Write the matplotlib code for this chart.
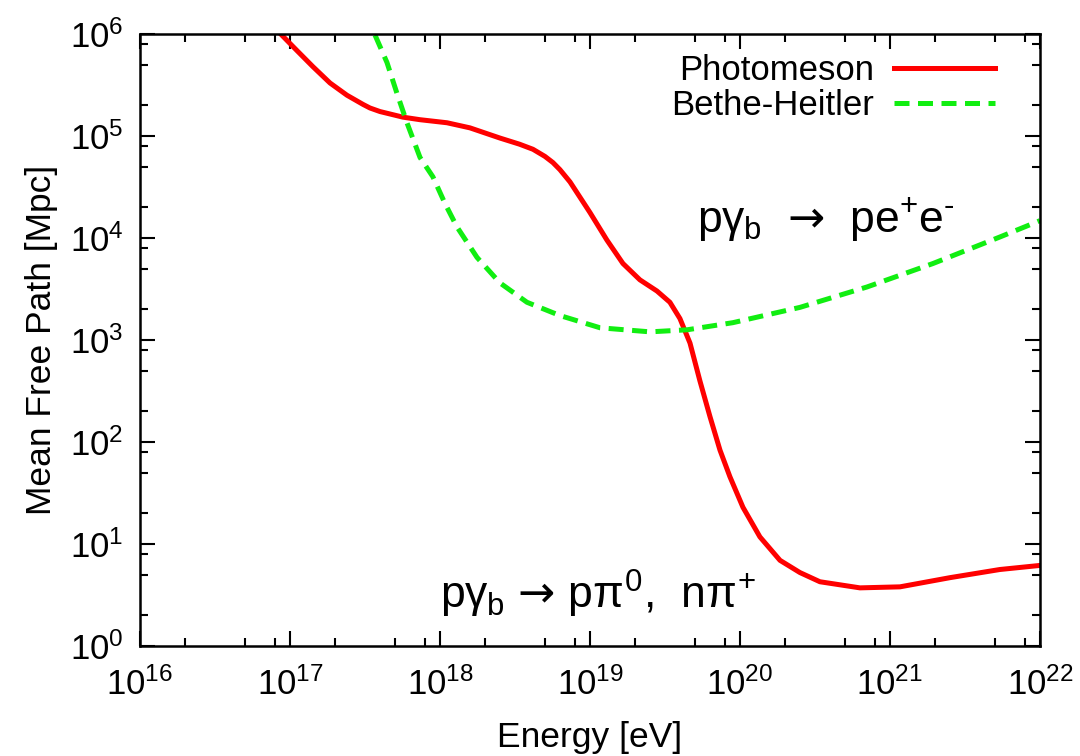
import numpy as np
import matplotlib
matplotlib.use("Agg")
import matplotlib.pyplot as plt
from matplotlib.ticker import FixedLocator, NullFormatter

plt.rcParams['font.family'] = ['Liberation Sans', 'DejaVu Sans']
plt.rcParams['mathtext.fontset'] = 'custom'
plt.rcParams['mathtext.rm'] = 'Liberation Sans'
plt.rcParams['mathtext.it'] = 'Liberation Sans'
plt.rcParams['mathtext.bf'] = 'Liberation Sans:bold'
plt.rcParams['mathtext.sf'] = 'DejaVu Sans'

# log10 of proton energy [eV] and mean free path [Mpc]
pm_logE = [16.945, 17.045, 17.153, 17.267, 17.38, 17.487, 17.533, 17.60, 17.753, 17.867,
           18.047, 18.20, 18.40, 18.53, 18.62, 18.70, 18.753, 18.80, 18.867, 19.00,
           19.113, 19.22, 19.333, 19.447, 19.533, 19.60, 19.667, 19.733, 19.80, 19.867,
           19.933, 20.02, 20.133, 20.267, 20.40, 20.533, 20.80, 21.067, 21.40, 21.733,
           22.00]
pm_logL = [5.99, 5.84, 5.68, 5.52, 5.40, 5.31, 5.275, 5.24, 5.185, 5.16,
           5.13, 5.08, 4.98, 4.92, 4.87, 4.80, 4.74, 4.67, 4.55, 4.25,
           3.98, 3.75, 3.59, 3.48, 3.37, 3.21, 2.97, 2.60, 2.25, 1.92,
           1.66, 1.36, 1.07, 0.84, 0.72, 0.63, 0.57, 0.58, 0.67, 0.75,
           0.79]

bh_logE = [17.567, 17.647, 17.713, 17.78, 17.867, 17.953, 18.033, 18.113, 18.247, 18.40,
           18.58, 18.80, 19.067, 19.40, 19.647, 19.953, 20.40, 20.847, 21.287, 21.733,
           22.00]
bh_logL = [5.99, 5.72, 5.42, 5.13, 4.79, 4.60, 4.34, 4.11, 3.81, 3.56,
           3.37, 3.24, 3.12, 3.08, 3.10, 3.17, 3.32, 3.52, 3.75, 4.01,
           4.17]

E_pm = 10.0 ** np.array(pm_logE)
L_pm = 10.0 ** np.array(pm_logL)
E_bh = 10.0 ** np.array(bh_logE)
L_bh = 10.0 ** np.array(bh_logL)

fig = plt.figure(figsize=(10.8, 7.56), dpi=100)
ax = fig.add_axes([0.1296, 0.1455, 0.8333, 0.8095])

ax.plot(E_pm, L_pm, color='#ff0000', lw=3.6, label='Photomeson',
        solid_joinstyle='round')
bh, = ax.plot(E_bh, L_bh, color='#11ee11', lw=3.6, label='Bethe-Heitler')
bh.set_dashes((3.0, 1.7))

ax.set_xscale('log')
ax.set_yscale('log')
ax.set_xlim(1e16, 1e22)
ax.set_ylim(1e0, 1e6)

# major ticks every decade, minor at 2, 5, 8
xdec = np.arange(16, 23)
ydec = np.arange(0, 7)
ax.xaxis.set_major_locator(FixedLocator(10.0 ** xdec))
ax.yaxis.set_major_locator(FixedLocator(10.0 ** ydec))
ax.xaxis.set_minor_locator(FixedLocator([m * 10.0 ** d for d in xdec[:-1] for m in (2, 5, 8)]))
ax.yaxis.set_minor_locator(FixedLocator([m * 10.0 ** d for d in ydec[:-1] for m in (2, 5, 8)]))
ax.xaxis.set_minor_formatter(NullFormatter())
ax.yaxis.set_minor_formatter(NullFormatter())

ax.tick_params(which='both', direction='in', top=True, right=True, width=1.5)
ax.tick_params(which='major', length=11, labelsize=25)
ax.tick_params(axis='x', which='major', pad=15)
ax.tick_params(axis='y', which='major', pad=12)
ax.tick_params(which='minor', length=6)
for s in ax.spines.values():
    s.set_linewidth(1.8)

ax.set_xlabel('Energy [eV]', fontsize=25.5, labelpad=14)
ax.set_ylabel('Mean Free Path [Mpc]', fontsize=25.5, labelpad=8)

ax.legend(loc='upper right', bbox_to_anchor=(0.985, 1.018), frameon=False,
          markerfirst=False, fontsize=25, handlelength=2.9, handletextpad=0.6,
          labelspacing=0.05)

ax.text(5.2e19, 1.15e4, 'p$\\gamma_{\\rm b}$  $\\mathsf{→}$  pe$^{+}$e$^{\u2010}$', fontsize=32,
        ha='left', va='baseline')
ax.text(1.0e18, 2.3, 'p$\\gamma_{\\rm b}$ $\\mathsf{→}$ p$\\pi^{0}$,  n$\\pi^{+}$', fontsize=32,
        ha='left', va='baseline')

fig.savefig('out.png', dpi=100)
